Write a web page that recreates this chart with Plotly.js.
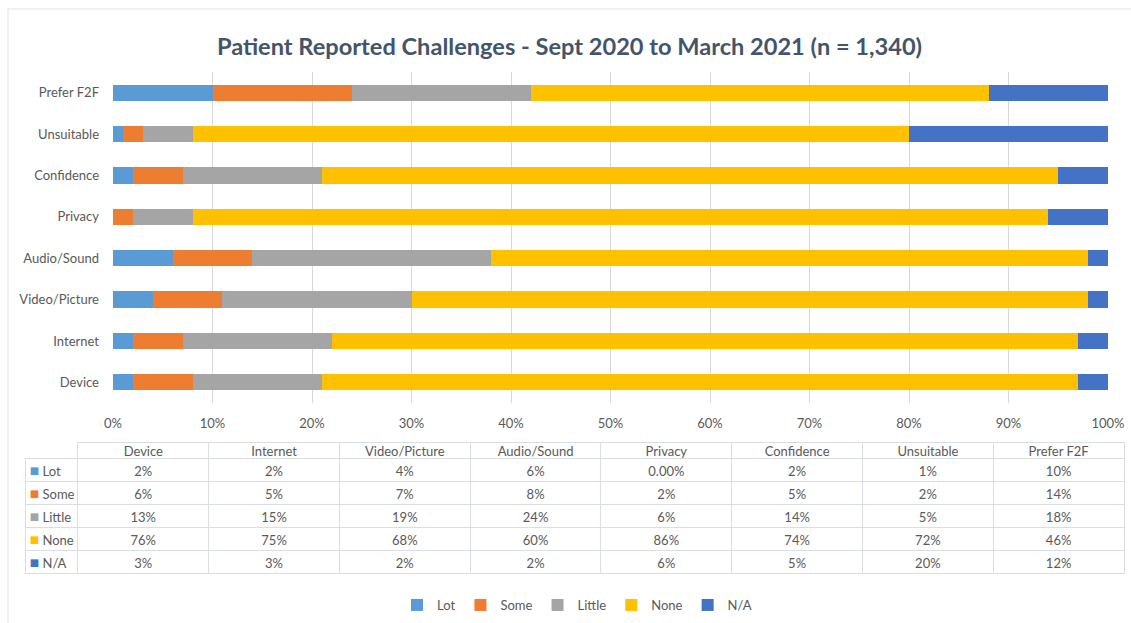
<!DOCTYPE html>
<html>
<head>
<meta charset="utf-8">
<script src="https://cdn.plot.ly/plotly-3.0.1.min.js"></script>
<style>
  html, body { margin: 0; padding: 0; background: #ffffff; }
  #chart { width: 1131px; height: 623px; }
</style>
</head>
<body>
<div id="chart"></div>
<script>
// ---- data ----
const categories = ['Device', 'Internet', 'Video/Picture', 'Audio/Sound', 'Privacy', 'Confidence', 'Unsuitable', 'Prefer F2F'];
const seriesNames = ['Lot', 'Some', 'Little', 'None', 'N/A'];
const lotValues    = [2, 2, 4, 6, 0, 2, 1, 10];
const someValues   = [6, 5, 7, 8, 2, 5, 2, 14];
const littleValues = [13, 15, 19, 24, 6, 14, 5, 18];
const noneValues   = [76, 75, 68, 60, 86, 74, 72, 46];
const naValues     = [3, 3, 2, 2, 6, 5, 20, 12];
const xTickValues  = [0, 0.1, 0.2, 0.3, 0.4, 0.5, 0.6, 0.7, 0.8, 0.9, 1];

// ---- style ----
const seriesColors = ['#5B9BD5', '#ED7D31', '#A5A5A5', '#FFC000', '#4472C4'];
const allSeries = [lotValues, someValues, littleValues, noneValues, naValues];
const W = 1131, H = 623;
const FONT = 'Lato, Calibri, Carlito, "Liberation Sans", sans-serif';
const TXT = '#595959';
const BORDER = '#D9DEE6';
const CLEAR = 'rgba(0,0,0,0)';
const HEAD_H = 16, ROW_H = 23;

function fmt(v) { return v === 0 ? '0.00%' : v + '%'; }

const traces = allSeries.map((vals, i) => ({
  type: 'bar',
  orientation: 'h',
  name: seriesNames[i],
  y: categories,
  x: vals.map(v => v / 100),
  marker: { color: seriesColors[i], line: { width: 0 } },
  hoverinfo: 'name+x'
}));

// data table built from the same arrays
const valueCols = categories.map((c, j) => allSeries.map(s => fmt(s[j])));
const tableY = [1 - 600 / H, 1 - 442 / H];
const tableFont = { family: FONT, size: 13, color: TXT };

// grid + values
traces.push({
  type: 'table',
  domain: { x: [25 / W, 1124 / W], y: tableY },
  columnwidth: [53].concat(categories.map(() => 131)),
  header: {
    values: [''].concat(categories.map(() => '')),
    height: HEAD_H,
    fill: { color: 'white' },
    line: { color: [CLEAR].concat(categories.map(() => BORDER)), width: 1 },
    font: tableFont
  },
  cells: {
    values: [seriesNames.map(() => '')].concat(valueCols),
    height: ROW_H,
    align: 'center',
    fill: { color: 'white' },
    line: { color: BORDER, width: 1 },
    font: tableFont
  }
});

// header texts (sit a little higher in their cells)
traces.push({
  type: 'table',
  domain: { x: [25 / W, 1124 / W], y: [tableY[0], 1 - 438 / H] },
  columnwidth: [53].concat(categories.map(() => 131)),
  header: {
    values: [''].concat(categories),
    height: HEAD_H,
    align: 'center',
    fill: { color: CLEAR },
    line: { color: CLEAR, width: 0 },
    font: tableFont
  },
  cells: {
    values: [['']].concat(categories.map(() => [''])),
    height: ROW_H,
    fill: { color: CLEAR },
    line: { color: CLEAR, width: 0 },
    font: tableFont
  }
});

// row labels
traces.push({
  type: 'table',
  domain: { x: [34.5 / W, 78 / W], y: tableY },
  columnwidth: [1],
  header: {
    values: [''],
    height: HEAD_H,
    fill: { color: CLEAR },
    line: { color: CLEAR, width: 0 }
  },
  cells: {
    values: [seriesNames],
    height: ROW_H,
    align: 'left',
    fill: { color: CLEAR },
    line: { color: CLEAR, width: 0 },
    font: tableFont
  }
});

// colour keys in the label column
traces.push({
  type: 'table',
  domain: { x: [28 / W, 42 / W], y: tableY },
  columnwidth: [1],
  header: {
    values: [''],
    height: HEAD_H,
    fill: { color: CLEAR },
    line: { color: CLEAR, width: 0 }
  },
  cells: {
    values: [seriesNames.map(() => '■')],
    height: ROW_H,
    align: 'center',
    fill: { color: CLEAR },
    line: { color: CLEAR, width: 0 },
    font: { family: 'DejaVu Sans', size: 10, color: [seriesColors] }
  }
});

const layout = {
  width: W,
  height: H,
  autosize: false,
  margin: { l: 0, r: 0, t: 0, b: 0, pad: 0 },
  paper_bgcolor: '#ffffff',
  plot_bgcolor: '#ffffff',
  barmode: 'stack',
  bargap: 0.61,
  font: { family: FONT, size: 13, color: TXT },
  title: {
    text: 'Patient Reported Challenges - Sept 2020 to March 2021 (n = 1,340)',
    x: 569.5 / W,
    xanchor: 'center',
    xref: 'container',
    y: 1 - 47 / H,
    yanchor: 'middle',
    yref: 'container',
    font: { family: FONT, size: 23.6, color: '#44546A', weight: 'bold' }
  },
  xaxis: {
    domain: [113 / W, 1108 / W],
    range: [0, 1],
    tickvals: xTickValues,
    tickformat: '.0%',
    showgrid: true,
    gridcolor: '#D9D9D9',
    gridwidth: 1,
    zeroline: false,
    showline: false,
    ticks: '',
    ticklabelstandoff: 11,
    tickfont: { family: FONT, size: 13, color: TXT },
    automargin: false,
    fixedrange: true
  },
  yaxis: {
    domain: [1 - 403 / H, 1 - 72 / H],
    type: 'category',
    categoryorder: 'array',
    categoryarray: categories,
    showgrid: false,
    zeroline: false,
    showline: false,
    ticks: '',
    ticklabelstandoff: 13,
    tickfont: { family: FONT, size: 13, color: TXT },
    automargin: false,
    fixedrange: true
  },
  showlegend: true,
  legend: {
    orientation: 'h',
    x: 577 / W,
    xanchor: 'center',
    y: 1 - 605 / H,
    yanchor: 'middle',
    traceorder: 'normal',
    font: { family: FONT, size: 13, color: TXT },
    bgcolor: 'rgba(0,0,0,0)'
  },
  shapes: [
    { type: 'line', xref: 'paper', yref: 'paper', x0: 8 / W, x1: 1, y0: 1 - 9 / H, y1: 1 - 9 / H,
      line: { color: '#E3E3E3', width: 1 } },
    { type: 'line', xref: 'paper', yref: 'paper', x0: 8 / W, x1: 8 / W, y0: 1 - 9 / H, y1: 0,
      line: { color: '#E3E3E3', width: 1 } }
  ]
};

Plotly.newPlot('chart', traces, layout, { displayModeBar: false });
</script>
</body>
</html>
